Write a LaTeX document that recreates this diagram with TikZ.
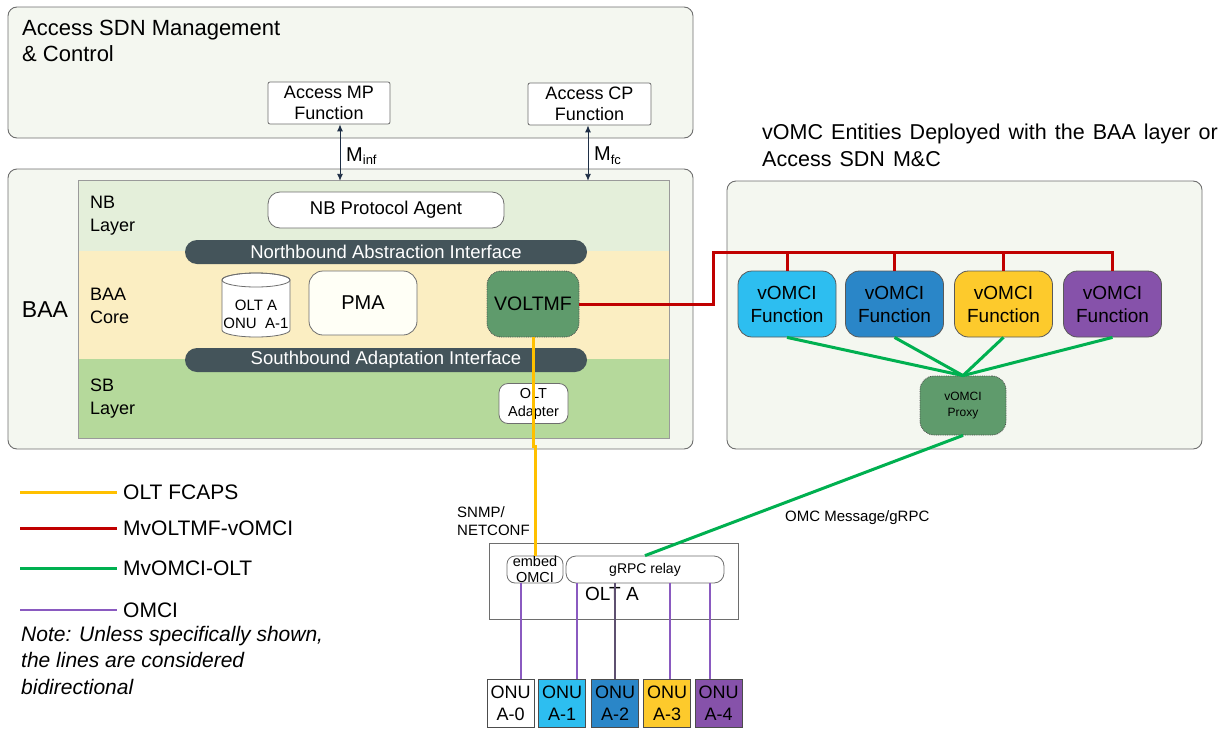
\documentclass[tikz,border=0pt]{standalone}
\usepackage{fontspec}
\setmainfont{Liberation Sans}
\newfontfamily\widespc[WordSpace=1.35]{Liberation Sans}
\usetikzlibrary{arrows.meta}
\definecolor{bgl}{HTML}{F4F7F0}
\definecolor{bord}{HTML}{6E6E6E}
\definecolor{nbc}{HTML}{E4EFDA}
\definecolor{corec}{HTML}{FBEEC2}
\definecolor{sbc}{HTML}{B5D99B}
\definecolor{pillc}{HTML}{44545A}
\definecolor{dgreen}{HTML}{5F9B6C}
\definecolor{lred}{HTML}{C00000}
\definecolor{lgreen}{HTML}{00B050}
\definecolor{lyellow}{HTML}{FFC000}
\definecolor{lpurple}{HTML}{8A5AC0}
\definecolor{dpurple}{HTML}{5E5070}
\definecolor{cone}{HTML}{2DBEF0}
\definecolor{ctwo}{HTML}{2A86C8}
\definecolor{cthree}{HTML}{FDCA2C}
\definecolor{cfour}{HTML}{8652AA}
\definecolor{arrc}{HTML}{1F2F46}
\definecolor{pmaf}{HTML}{FFFFF6}
\newcommand\fsz[2]{\fontsize{#1}{#2}\selectfont}
\tikzset{
  outer/.style={draw=bord, fill=bgl, line width=0.9pt, rounded corners=9pt, inner sep=0pt},
  fbox/.style={draw=bord, fill=white, line width=0.8pt, rounded corners=2pt, inner sep=0pt, align=center, font={\fsz{18}{21}}},
  rbox/.style={draw=bord, fill=white, line width=0.8pt, inner sep=0pt, align=center},
  txt/.style={inner sep=0pt, align=left},
  pillst/.style={fill=pillc, text=white, rounded corners=12pt, inner sep=0pt, minimum width=402pt, minimum height=24pt, font={\fsz{18.5}{22}}},
  dbox/.style={draw=black!70, densely dotted, fill=dgreen, line width=0.8pt, inner sep=0pt, align=center},
  vf/.style={draw=black!65, line width=0.8pt, rounded corners=14pt, minimum width=98pt, minimum height=66pt, inner sep=0pt, align=center, font={\fsz{19}{23}}},
  onu/.style={draw=black!70, line width=0.8pt, minimum width=47pt, minimum height=48pt, inner sep=0pt, align=center, font={\fsz{18}{22}}},
  biarrow/.style={arrc, line width=0.9pt, {Latex[length=7pt,width=6pt]}-{Latex[length=7pt,width=6pt]}},
  ylw/.style={lyellow, line width=3pt},
  rd/.style={lred, line width=3pt},
  grn/.style={lgreen, line width=3pt},
  omci/.style={lpurple, line width=1.3pt},
  legtxt/.style={inner sep=0pt, anchor=west, font={\fsz{21}{25}}}
}
\begin{document}
\begin{tikzpicture}[x=1pt,y=-1pt]
\useasboundingbox (0,0) rectangle (1228,728);

% ---------- Access SDN M&C ----------
\node[outer, minimum width=685pt, minimum height=131pt] (top) at (350.5,72.5) {};
\node[txt, anchor=north west, font={\fsz{22}{26}}] (toptitle) at (22,20) {Access SDN Management\\\& Control};
\node[fbox, minimum width=122pt, minimum height=42pt] (mp) at (329,103) {Access MP\\Function};
\node[fbox, minimum width=123pt, minimum height=42pt] (cp) at (589.5,104) {Access CP\\Function};

% ---------- BAA ----------
\node[outer, minimum width=685pt, minimum height=280pt] (baa) at (350.5,309) {};
\node[inner sep=0pt, font={\fsz{23}{26}}] (baalbl) at (45,310) {BAA};
\node[fill=nbc, minimum width=590pt, minimum height=70pt, inner sep=0pt] (nb) at (374,216) {};
\node[fill=corec, minimum width=590pt, minimum height=108pt, inner sep=0pt] (core) at (374,305) {};
\node[fill=sbc, minimum width=590pt, minimum height=79pt, inner sep=0pt] (sb) at (374,398.5) {};
\draw[bord!70, line width=0.7pt] (nb.north west) rectangle (sb.south east);

\node[txt, anchor=west, font={\fsz{18}{23}}] (nbl) at (90,216) {NB\\Layer};
\node[txt, anchor=west, font={\fsz{18}{23}}] (corel) at (90,306) {BAA\\Core};
\node[txt, anchor=west, font={\fsz{18}{23}}] (sbl) at (90,399) {SB\\Layer};

\node[rbox, rounded corners=12pt, minimum width=236pt, minimum height=36pt, font={\fsz{18.5}{22}}] (nbpa) at (386,210) {NB Protocol Agent};
\node[pillst] (nai) at (386,252) {Northbound Abstraction Interface};
\node[pillst] (sai) at (386,360) {Southbound Adaptation Interface};

% database cylinder
\draw[bord, fill=white, line width=0.8pt] (222,280) -- (222,330) arc[start angle=180, end angle=0, x radius=34, y radius=7] -- (290,280) arc[start angle=0, end angle=-180, x radius=34, y radius=7] -- cycle;
\draw[bord, line width=0.8pt] (256,280) ellipse[x radius=34, y radius=7];
\node[inner sep=0pt, align=center, font={\fsz{15}{18}}] (db) at (256,314) {OLT A\\ONU~~A-1};

\node[rbox, rounded corners=14pt, fill=pmaf, minimum width=108pt, minimum height=64pt, font={\fsz{20}{24}}] (pma) at (363,303) {PMA};
\node[dbox, rounded corners=14pt, minimum width=92pt, minimum height=66pt, font={\fsz{19.5}{23}}] (voltmf) at (533,304) {VOLTMF};
\node[rbox, rounded corners=9pt, minimum width=69pt, minimum height=40pt, font={\fsz{14.5}{18}}] (oltad) at (533.5,403.5) {OLT\\Adapter};

% ---------- vOMCI side ----------
\node[txt, anchor=north west, font={\widespc\fsz{21.5}{27}}] (vtitle) at (762,124) {vOMC Entities Deployed with the BAA layer or\\Access SDN M\&C};
\node[outer, minimum width=475pt, minimum height=268pt] (vbox) at (964.5,315) {};
\node[vf, fill=cone] (v1) at (787,304) {vOMCI\\Function};
\node[vf, fill=ctwo] (v2) at (894.5,304) {vOMCI\\Function};
\node[vf, fill=cthree] (v3) at (1003.5,304) {vOMCI\\Function};
\node[vf, fill=cfour] (v4) at (1112.5,304) {vOMCI\\Function};
\node[dbox, rounded corners=14pt, minimum width=86pt, minimum height=59pt, font={\fsz{12}{16}}] (proxy) at (963,405.5) {vOMCI\\Proxy};

% ---------- OLT A ----------
\node[draw=bord, fill=white, line width=0.8pt, minimum width=249pt, minimum height=76pt, inner sep=0pt] (olt) at (613.5,581) {};
\node[rbox, rounded corners=8pt, minimum width=56pt, minimum height=27pt, font={\fsz{14.5}{16}}] (embed) at (535,569.5) {embed\\OMCI};
\node[rbox, rounded corners=10pt, minimum width=158pt, minimum height=27pt, font={\fsz{14}{17}}] (grpc) at (645,569.5) {gRPC relay};
\node[txt, anchor=west, font={\fsz{19}{22}}] (oltlbl) at (585,594) {OLT A};

\node[onu, fill=white] (onu0) at (510.5,703) {ONU\\A-0};
\node[onu, fill=cone] (onu1) at (562,703) {ONU\\A-1};
\node[onu, fill=ctwo] (onu2) at (615,703) {ONU\\A-2};
\node[onu, fill=cthree] (onu3) at (667,703) {ONU\\A-3};
\node[onu, fill=cfour] (onu4) at (718.5,703) {ONU\\A-4};

\node[txt, anchor=west, font={\fsz{15}{18}}] (snmp) at (457,521) {SNMP/\\NETCONF};
\node[txt, anchor=west, font={\fsz{15}{18}}] (omcmsg) at (785,518) {OMC Message/gRPC};

% ---------- connectors ----------
\coordinate (mx) at (340,0);
\coordinate (cx) at (588,0);
\draw[biarrow] (mx |- mp.south) -- (mx |- nb.north);
\draw[biarrow] (cx |- cp.south) -- (cx |- nb.north);
\node[txt, anchor=west, font={\fsz{20}{24}}] (minf) at (346,156) {M\raisebox{-0.35ex}{\fsz{13}{15}inf}};
\node[txt, anchor=west, font={\fsz{20}{24}}] (mfc) at (594,156) {M\raisebox{-0.35ex}{\fsz{13}{15}fc}};

\coordinate (bus) at (713,252);
\draw[rd] (voltmf.east) -| (bus) -- (bus -| v4.north) -- (v4.north);
\foreach \v in {v1,v2,v3} \draw[rd] (\v.north) -- (\v.north |- bus);

\foreach \v in {v1,v2,v3,v4} \draw[grn] (\v.south) -- (proxy.north);
\draw[grn] (proxy.south) -- (grpc.north);

\draw[ylw] (voltmf.south) -- ++(0,109) -- ++(2,0) -- (embed.north);

\coordinate (pa) at (521,0);
\coordinate (pb) at (577,0);
\coordinate (pc) at (615,0);
\coordinate (pd) at (670,0);
\coordinate (pe) at (710,0);
\draw[omci] (pa |- embed.south) -- (pa |- onu0.north);
\draw[omci] (pb |- grpc.south) -- (pb |- onu1.north);
\draw[omci, dpurple] (pc |- grpc.south) -- (pc |- onu2.north);
\draw[omci] (pd |- grpc.south) -- (pd |- onu3.north);
\draw[omci] (pe |- grpc.south) -- (pe |- onu4.north);

% ---------- legend ----------
\coordinate (la) at (20,492);
\coordinate (lb) at (20,528);
\coordinate (lc) at (20,568);
\coordinate (ld) at (20,610);
\draw[ylw] (la) -- ++(97,0);
\draw[rd] (lb) -- ++(97,0);
\draw[grn] (lc) -- ++(97,0);
\draw[omci, line width=1.5pt] (ld) -- ++(97,0);
\node[legtxt] (lta) at (123,492) {OLT FCAPS};
\node[legtxt] (ltb) at (123,528) {MvOLTMF-vOMCI};
\node[legtxt] (ltc) at (123,568) {MvOMCI-OLT};
\node[legtxt] (ltd) at (123,610) {OMCI};
\node[txt, anchor=north west, font={\fsz{21}{26.5}\itshape}] (note) at (21,626) {Note: Unless specifically shown,\\the lines are considered\\bidirectional};
\end{tikzpicture}
\end{document}
